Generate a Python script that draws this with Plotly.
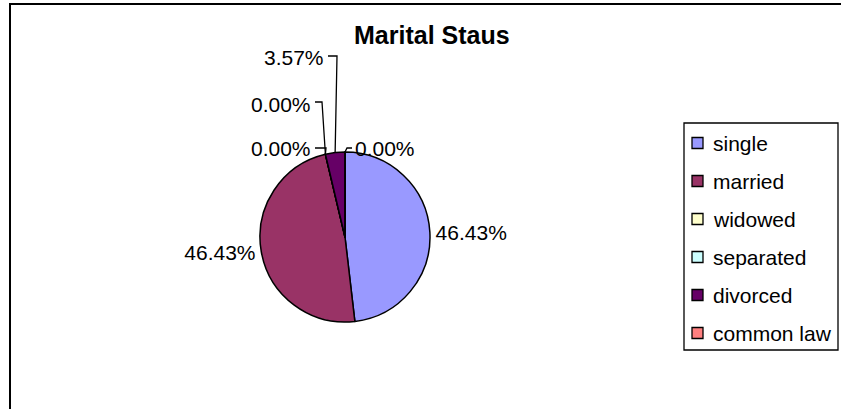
import math
import plotly.graph_objects as go

# ---- data ----
title_text = "Marital Staus"
categories = ["single", "married", "widowed", "separated", "divorced", "common law"]
values = [46.43, 46.43, 0.00, 0.00, 3.57, 0.00]
colors = ["#9999FF", "#993366", "#FFFFCC", "#CCFFFF", "#660066", "#FF8080"]

# ---- layout constants (pixels) ----
W, H = 841, 409
CX, CY, R = 345, 237, 85
FONT = "Liberation Sans, Arial, sans-serif"
FS = 21


def px(x):
    return x / W


def py(y):
    return 1 - y / H


labels_text = [f"{v:.2f}%" for v in values]
total = sum(values)

# slice angles (clockwise from 12 o'clock)
starts, ends = [], []
acc = 0.0
for v in values:
    starts.append(acc / total * 360)
    acc += v
    ends.append(acc / total * 360)


def edge(angle):
    a = math.radians(angle)
    return CX + R * math.sin(a), CY - R * math.cos(a)


# plotly places labels for the two big slices; others get leader-line labels
big = [v / total > 0.1 for v in values]
pie_text = [t if b else "" for t, b in zip(labels_text, big)]

fig = go.Figure(
    go.Pie(
        labels=categories,
        values=values,
        text=pie_text,
        textinfo="text",
        textposition="outside",
        textfont=dict(family=FONT, size=FS, color="black"),
        marker=dict(colors=colors, line=dict(color="black", width=1.5)),
        sort=False,
        direction="clockwise",
        rotation=0,
        showlegend=False,
        hoverinfo="skip",
        domain=dict(x=[px(CX - R), px(CX + R)], y=[py(CY + R), py(CY - R)]),
    )
)

shapes = []
annotations = []

# leader-line label placement for the small slices: (index, text x, text y, side, elbow x, line y)
small_specs = [
    (4, 326, 58, "right", 337, 56),
    (3, 313, 104, "right", 322, 102),
    (2, 313, 149, "right", 326, 148),
    (5, 353, 149, "left", 347, 148),
]
for idx, tx, ty, side, ex, ly in small_specs:
    if values[idx] > 0:
        ang = (starts[idx] + ends[idx]) / 2
    else:
        ang = starts[idx]
    ax_, ay_ = edge(ang)
    annotations.append(dict(
        x=px(tx), y=py(ty), xref="paper", yref="paper",
        xanchor=side, yanchor="middle", showarrow=False,
        text=labels_text[idx], font=dict(family=FONT, size=FS, color="black"),
    ))
    sx = tx + 2 if side == "right" else tx - 1
    path = f"M {px(sx)} {py(ly)} L {px(ex)} {py(ly)} L {px(ax_)} {py(ay_)}"
    shapes.append(dict(type="path", xref="paper", yref="paper", path=path,
                       line=dict(color="black", width=1.3)))

# title
annotations.append(dict(
    x=px(432), y=py(35), xref="paper", yref="paper", xanchor="center", yanchor="middle",
    showarrow=False, text=f"<b>{title_text}</b>",
    font=dict(family=FONT, size=25, color="black"),
))

# legend (drawn manually to match spacing)
LX0, LY0, LX1, LY1 = 684, 123, 838, 350
shapes.append(dict(type="rect", xref="paper", yref="paper",
                   x0=px(LX0), x1=px(LX1), y0=py(LY1), y1=py(LY0),
                   line=dict(color="black", width=1.3), fillcolor="white", layer="below"))
for i, (cat, col) in enumerate(zip(categories, colors)):
    yc = 143 + 38 * i
    shapes.append(dict(type="rect", xref="paper", yref="paper",
                       x0=px(692), x1=px(703), y0=py(yc + 5.5), y1=py(yc - 5.5),
                       line=dict(color="black", width=1.3), fillcolor=col))
    annotations.append(dict(
        x=px(711), y=py(yc), xref="paper", yref="paper", xanchor="left", yanchor="middle",
        showarrow=False, text=cat, font=dict(family=FONT, size=FS, color="black"),
    ))

# chart area border (left and top visible)
shapes.append(dict(type="rect", xref="paper", yref="paper",
                   x0=px(10), x1=px(W + 20), y0=py(H + 20), y1=py(4),
                   line=dict(color="black", width=2), layer="below"))

fig.update_layout(
    width=W, height=H,
    margin=dict(l=0, r=0, t=0, b=0),
    paper_bgcolor="white", plot_bgcolor="white",
    shapes=shapes, annotations=annotations,
    showlegend=False,
)

fig.write_html(
    "out.html",
    config={"displayModeBar": False},
    post_script="document.body.style.margin='0';document.body.style.overflow='hidden';",
)
